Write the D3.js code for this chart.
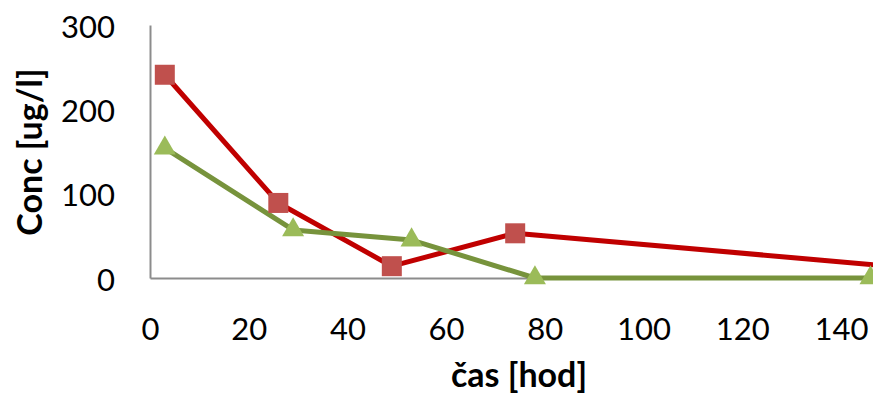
<!DOCTYPE html>
<html>
<head>
<meta charset="utf-8">
<script src="https://cdn.jsdelivr.net/npm/d3@7"></script>
<style>
  body { margin: 0; background: #fff; }
  svg text { font-family: Lato, "Open Sans", sans-serif; fill: #000; }
</style>
</head>
<body>
<script>
// dati
const casRossa = [3, 26, 49, 74, 150];
const concRossa = [241, 89, 14, 53, 14];
const casVerde = [3, 29, 53, 78, 146];
const concVerde = [154, 57, 45, 0, 0];
const tickX = [0, 20, 40, 60, 80, 100, 120, 140];
const tickY = [0, 100, 200, 300];

const grafico = { larghezza: 873, altezza: 398 };

const svg = d3.select("body").append("svg")
    .attr("width", grafico.larghezza)
    .attr("height", grafico.altezza);

// scale
const scalaX = d3.scaleLinear().domain([0, 160]).range([150, 939.6]);
const scalaY = d3.scaleLinear().domain([0, 300]).range([278, 25]);

// assi
const asseX = d3.axisBottom(scalaX).tickValues(tickX).tickSize(0).tickPadding(38);
const gx = svg.append("g").attr("transform", `translate(0,${scalaY(0)})`).call(asseX);
gx.select(".domain").attr("stroke", "#8c8c8c").attr("stroke-width", 2);
gx.selectAll("text").attr("font-size", "31px").attr("dy", 0).attr("dominant-baseline", "central")
    .attr("y", 50);

const asseY = d3.axisLeft(scalaY).tickValues(tickY).tickSize(0).tickPadding(35);
const gy = svg.append("g").attr("transform", `translate(${scalaX(0)},0)`).call(asseY);
gy.select(".domain").attr("stroke", "#8c8c8c").attr("stroke-width", 2);
gy.selectAll("text").attr("font-size", "31px").attr("dy", 0).attr("dominant-baseline", "central");

// titoli assi
svg.append("text")
    .attr("x", 519).attr("y", 387)
    .attr("text-anchor", "middle")
    .attr("font-size", "34px").attr("font-weight", "bold")
    .text("čas [hod]");

svg.append("text")
    .attr("transform", "translate(42,152) rotate(-90)")
    .attr("text-anchor", "middle")
    .attr("font-size", "34px").attr("font-weight", "bold")
    .text("Conc [ug/l]");

// linee
const linea = d3.line().x(d => scalaX(d[0])).y(d => scalaY(d[1]));
const datiRossa = casRossa.map((c, i) => [c, concRossa[i]]);
const datiVerde = casVerde.map((c, i) => [c, concVerde[i]]);

svg.append("path").datum(datiRossa)
    .attr("fill", "none").attr("stroke", "#c00000").attr("stroke-width", 5)
    .attr("stroke-linejoin", "round")
    .attr("d", linea);

svg.append("path").datum(datiVerde)
    .attr("fill", "none").attr("stroke", "#77933c").attr("stroke-width", 5)
    .attr("stroke-linejoin", "round")
    .attr("d", linea);

// marcatori
svg.selectAll(".quadrato").data(datiRossa).enter().append("rect")
    .attr("class", "quadrato")
    .attr("x", d => scalaX(d[0]) - 10).attr("y", d => scalaY(d[1]) - 10)
    .attr("width", 20).attr("height", 20)
    .attr("fill", "#c0504d");

const triangolo = d3.symbol().type(d3.symbolTriangle).size(210);
svg.selectAll(".triangolo").data(datiVerde).enter().append("path")
    .attr("class", "triangolo")
    .attr("transform", d => `translate(${scalaX(d[0])},${scalaY(d[1])})`)
    .attr("d", triangolo)
    .attr("fill", "#9bbb59");
</script>
</body>
</html>
